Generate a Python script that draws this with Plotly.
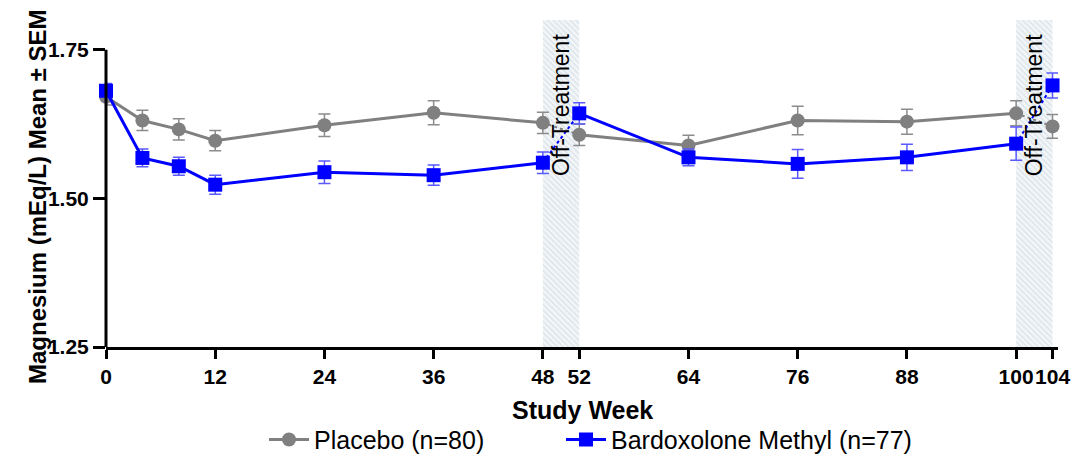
import plotly.graph_objects as go

# Study visits (weeks) and magnesium means ± SEM per arm
weeks = [0, 4, 8, 12, 24, 36, 48, 52, 64, 76, 88, 100, 104]
tick_weeks = [0, 12, 24, 36, 48, 52, 64, 76, 88, 100, 104]

placebo_mean = [1.671, 1.631, 1.616, 1.597, 1.623, 1.644, 1.627, 1.607, 1.589, 1.631, 1.629, 1.643, 1.621]
placebo_sem = [0.014, 0.017, 0.018, 0.017, 0.019, 0.020, 0.018, 0.018, 0.017, 0.024, 0.021, 0.021, 0.020]

bard_mean = [1.681, 1.568, 1.554, 1.523, 1.544, 1.539, 1.560, 1.643, 1.569, 1.558, 1.569, 1.592, 1.690]
bard_sem = [0.012, 0.015, 0.015, 0.016, 0.019, 0.017, 0.018, 0.018, 0.014, 0.024, 0.022, 0.028, 0.021]

# Off-treatment windows
off_windows = [(48, 52), (100, 104)]

GRAY = "#808080"
BLUE = "#0000ff"
FONT = "Liberation Sans, Arial, sans-serif"

fig = go.Figure()

# Hatched off-treatment bands
for a, b in off_windows:
    fig.add_trace(go.Scatter(
        x=[a, b, b, a, a], y=[1.25, 1.25, 1.80, 1.80, 1.25],
        fill="toself", mode="lines", line=dict(width=0),
        fillcolor="rgba(0,0,0,0)",
        fillpattern=dict(shape="\\", fgcolor="#bccbd5", bgcolor="#f3f6f8", size=4, solidity=0.3),
        hoverinfo="skip", showlegend=False,
    ))


def split_on_gaps(xs, ys):
    """Insert breaks so that the off-treatment steps are not drawn solid."""
    ox, oy = [], []
    for i, (xv, yv) in enumerate(zip(xs, ys)):
        if i > 0 and any(xs[i - 1] == a and xv == b for a, b in off_windows):
            ox.append(None)
            oy.append(None)
        ox.append(xv)
        oy.append(yv)
    return ox, oy


def add_series(name, mean, sem, color, err_color, symbol, size, legend):
    # dotted connectors across off-treatment windows
    dx, dy = [], []
    for a, b in off_windows:
        dx += [a, b, None]
        dy += [mean[weeks.index(a)], mean[weeks.index(b)], None]
    fig.add_trace(go.Scatter(x=dx, y=dy, mode="lines",
                             line=dict(color=color, width=2, dash="dot"),
                             showlegend=False, hoverinfo="skip"))
    sx, sy = split_on_gaps(weeks, mean)
    _, se = split_on_gaps(weeks, sem)
    fig.add_trace(go.Scatter(
        x=sx, y=sy, name=name, mode="lines+markers", legend=legend,
        line=dict(color=color, width=3),
        marker=dict(symbol=symbol, size=size, color=color),
        error_y=dict(type="data", array=se, color=err_color, thickness=1.5, width=6),
        cliponaxis=False, connectgaps=False,
    ))


add_series("Placebo (n=80)", placebo_mean, placebo_sem, GRAY, "#8c8c8c", "circle", 14, "legend")
add_series("Bardoxolone Methyl (n=77)", bard_mean, bard_sem, BLUE, "#5a5aff", "square", 14, "legend2")

for a, b in off_windows:
    fig.add_annotation(x=(a + b) / 2, y=1.8, yanchor="top", text="Off-Treatment",
                       textangle=-90, showarrow=False,
                       font=dict(family=FONT, size=23, color="black"), yshift=-12)

# axis titles
fig.add_annotation(xref="paper", yref="paper", x=0, y=0.5, xshift=-84, yshift=-13,
                   text="<b>Magnesium (mEq/L) Mean ± SEM</b>", textangle=-90,
                   showarrow=False, font=dict(family=FONT, size=24, color="black"))
fig.add_annotation(xref="paper", yref="paper", x=0.5, y=0, yanchor="middle", yshift=-63,
                   text="<b>Study Week</b>", showarrow=False,
                   font=dict(family=FONT, size=25, color="black"))

# y-axis spine drawn only over the labelled range
fig.add_shape(type="line", xref="paper", yref="y", x0=0, x1=0, y0=1.25, y1=1.75,
              line=dict(color="black", width=3))

legend_common = dict(orientation="h", xref="container", xanchor="left",
                     yref="container", y=0.048, yanchor="middle",
                     font=dict(family=FONT, size=25), itemwidth=40,
                     bgcolor="rgba(0,0,0,0)")

fig.update_layout(
    width=1076, height=462,
    margin=dict(l=106, r=18, t=20, b=115, autoexpand=False),
    plot_bgcolor="white", paper_bgcolor="white",
    font=dict(family=FONT, color="black"),
    showlegend=True,
    legend=dict(x=264 / 1076, **legend_common),
    legend2=dict(x=561 / 1076, **legend_common),
    xaxis=dict(range=[0, 104.6], tickmode="array", tickvals=tick_weeks, tickangle=0,
               showline=True, linecolor="black", linewidth=3,
               ticks="outside", ticklen=9, tickwidth=3, tickcolor="black",
               tickfont=dict(family=FONT, size=21, color="black", weight="bold"),
               showgrid=False, zeroline=False, automargin=False),
    yaxis=dict(range=[1.25, 1.80], tickmode="array", tickvals=[1.25, 1.5, 1.75],
               ticktext=["1.25", "1.50", "1.75"],
               showline=False, ticks="outside", ticklen=12, tickwidth=3, tickcolor="black",
               tickfont=dict(family=FONT, size=21, color="black", weight="bold"),
               showgrid=False, zeroline=False, automargin=False),
)

fig.write_html("out.html")
